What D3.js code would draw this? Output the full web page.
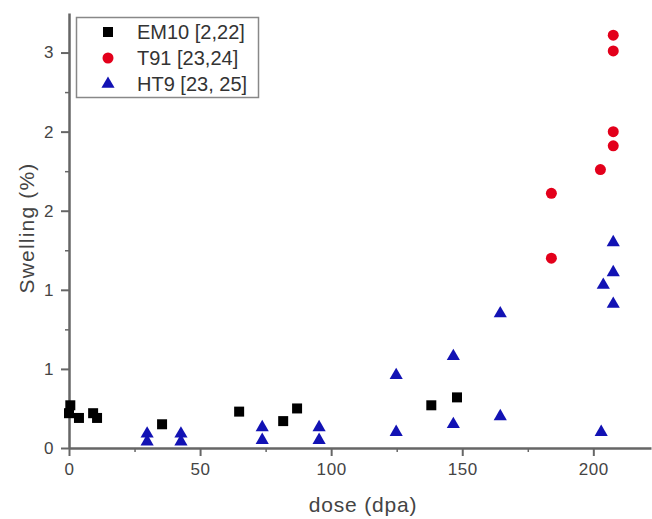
<!DOCTYPE html>
<html>
<head>
<meta charset="utf-8">
<script src="https://cdn.jsdelivr.net/npm/d3@7"></script>
<style>
  body { margin: 0; background: #fff; }
  svg { display: block; font-family: "Liberation Sans", Arial, sans-serif; }
  .axis path, .axis line { stroke: #666; }
  .axis text { fill: #444; font-size: 17px; letter-spacing: 0.6px; }
</style>
</head>
<body>
<svg width="652" height="519"></svg>
<script>
// series: [dose (dpa), swelling (%)]
var em10 = [
    [0, 0.22], [0.5, 0.27], [3.8, 0.19], [9.2, 0.22], [10.7, 0.19],
    [35.5, 0.15], [64.9, 0.23], [81.7, 0.17], [87, 0.25],
    [138.2, 0.27], [148, 0.32]
];
var t91 = [
    [207.6, 2.61], [207.6, 2.51], [207.6, 2.00], [207.6, 1.91],
    [202.7, 1.76], [184, 1.61], [184, 1.20]
];
var ht9 = [
    [29.8, 0.09], [29.8, 0.04], [42.7, 0.09], [42.7, 0.04],
    [73.7, 0.13], [73.7, 0.05], [95.4, 0.13], [95.4, 0.05],
    [124.8, 0.46], [124.8, 0.10], [146.6, 0.58], [146.6, 0.15],
    [164.5, 0.85], [164.5, 0.20], [203, 0.10], [203.8, 1.03],
    [207.6, 1.30], [207.6, 1.11], [207.6, 0.91]
];

var legendNames = ["EM10 [2,22]", "T91 [23,24]", "HT9 [23, 25]"];
var xTicks = [0, 50, 100, 150, 200];
var xMinor = [25, 75, 125, 175];
var yTicks = [0, 0.5, 1, 1.5, 2, 2.5];
var yTickLabels = ["0", "1", "1", "2", "2", "3"];
var yMinor = [0.25, 0.75, 1.25, 1.75, 2.25];

var svg = d3.select("svg");
var margin = {left: 69, top: 13, bottom: 71};
var width = 652, height = 519;

var x = d3.scaleLinear().domain([0, 222]).range([margin.left, 651]);
var y = d3.scaleLinear().domain([0, 2.75]).range([height - margin.bottom, margin.top]);

// minor ticks
svg.append("g")
    .attr("class", "axis")
    .attr("transform", "translate(0," + y(0) + ")")
    .call(d3.axisBottom(x).tickValues(xMinor).tickSize(4).tickFormat(""))
    .call(function(g) { g.select(".domain").remove(); })
    .selectAll("line").attr("stroke-width", 1.5);

svg.append("g")
    .attr("class", "axis")
    .attr("transform", "translate(" + x(0) + ",0)")
    .call(d3.axisLeft(y).tickValues(yMinor).tickSize(4).tickFormat(""))
    .call(function(g) { g.select(".domain").remove(); })
    .selectAll("line").attr("stroke-width", 1.5);

// major axes
var xAxis = svg.append("g")
    .attr("class", "axis")
    .attr("transform", "translate(0," + y(0) + ")")
    .call(d3.axisBottom(x).tickValues(xTicks).tickSizeInner(8).tickSizeOuter(0).tickPadding(7));
xAxis.select(".domain").attr("stroke-width", 2.5);
xAxis.selectAll("line").attr("stroke-width", 2);

var yAxis = svg.append("g")
    .attr("class", "axis")
    .attr("transform", "translate(" + x(0) + ",0)")
    .call(d3.axisLeft(y).tickValues(yTicks).tickSizeInner(8).tickSizeOuter(0).tickPadding(7)
        .tickFormat(function(d, i) { return yTickLabels[i]; }));
yAxis.select(".domain").attr("stroke-width", 2.5);
yAxis.selectAll("line").attr("stroke-width", 2);

// axis titles
svg.append("text")
    .attr("x", 363).attr("y", 512)
    .attr("text-anchor", "middle")
    .attr("font-size", 21).attr("letter-spacing", 0.8).attr("fill", "#444")
    .text("dose (dpa)");

svg.append("text")
    .attr("transform", "translate(34,228) rotate(-90)")
    .attr("text-anchor", "middle")
    .attr("font-size", 21).attr("letter-spacing", 1.2).attr("fill", "#444")
    .text("Swelling (%)");

// points
var square = d3.symbol().type(d3.symbolSquare).size(100);
var circle = d3.symbol().type(d3.symbolCircle).size(95);
var triangle = d3.symbol().type(d3.symbolTriangle).size(75);

var series = [
    {data: em10, sym: square, color: "#000000"},
    {data: t91, sym: circle, color: "#e3001b"},
    {data: ht9, sym: triangle, color: "#1212b4"}
];

series.forEach(function(s) {
    svg.append("g").selectAll("path")
        .data(s.data).enter().append("path")
            .attr("d", s.sym)
            .attr("fill", s.color)
            .attr("transform", function(d) {
                return "translate(" + x(d[0]) + "," + y(d[1]) + ")";
            });
});

// legend
var legend = svg.append("g");
legend.append("rect")
    .attr("x", 76.5).attr("y", 17.5)
    .attr("width", 182).attr("height", 80)
    .attr("fill", "#fff")
    .attr("stroke", "#888").attr("stroke-width", 1.5);

series.forEach(function(s, i) {
    var yy = 32 + i * 26;
    legend.append("path")
        .attr("d", s.sym)
        .attr("fill", s.color)
        .attr("transform", "translate(108," + yy + ")");
    legend.append("text")
        .attr("x", 137).attr("y", yy + 7)
        .attr("font-size", 20).attr("fill", "#333")
        .text(legendNames[i]);
});
</script>
</body>
</html>
